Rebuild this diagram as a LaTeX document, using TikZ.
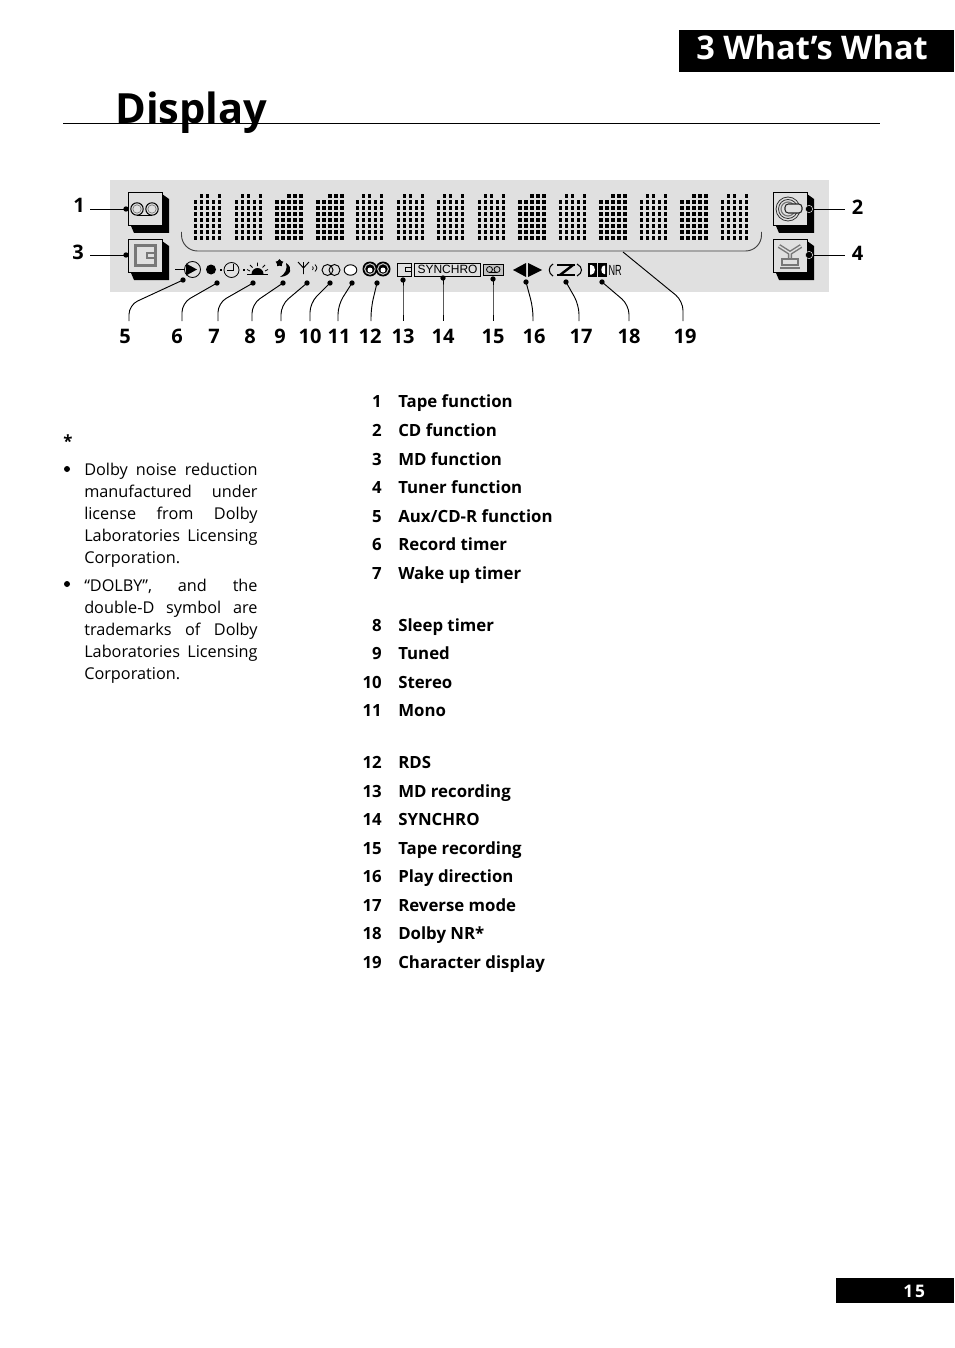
\documentclass[tikz,border=0pt]{standalone}
\usepackage{fontspec}
\setmainfont{Open Sans}
\newfontfamily\panelfont{Liberation Sans}
\definecolor{panelgray}{RGB}{224,224,224}
\definecolor{icongray}{RGB}{120,120,120}
\usetikzlibrary{arrows.meta,positioning,shapes.geometric,calc}
\newcommand{\pagetitle}{\fontsize{31.2}{36}\selectfont\bfseries}
\newcommand{\chaptitle}{\fontsize{24.4}{30}\selectfont\bfseries}
\newcommand{\calloutfont}{\fontsize{15}{18}\selectfont\bfseries}
\newcommand{\listfont}{\fontsize{12.6}{15}\selectfont\bfseries}
\newcommand{\notefont}{\fontsize{12.2}{16.5}\selectfont}

\begin{document}
\begin{tikzpicture}[x=0.75pt,y=-0.75pt,
  leader/.style={draw=black,line width=0.7pt,rounded corners=7pt},
  spot/.style={circle,fill=black,inner sep=0pt,minimum size=4pt},
  callout/.style={font=\calloutfont,anchor=base,inner sep=0pt},
  listnum/.style={font=\listfont,anchor=base east,inner sep=0pt},
  listtext/.style={font=\listfont,anchor=base west,inner sep=0pt},
  notetext/.style={font=\notefont,anchor=north west,inner sep=0pt,text width=130pt,align=justify},
  iconline/.style={draw=icongray,line width=1pt},
  keybox/.style={draw=black,fill=panelgray,line width=0.8pt}]
  \useasboundingbox (0,0) rectangle (954,1348);
  % Page heading
  \fill[black] (679,30) rectangle (954,72);
  \node[font=\chaptitle,text=white,anchor=base west,inner sep=0pt] (chapter) at (696,60) {3 What’s What};
  \node[font=\pagetitle,anchor=base west,inner sep=0pt] (title) at (115,124) {Display};
  \draw[line width=0.8pt] (63,123.8) -- (880,123.8);
  % Page number
  \fill[black] (836,1278) rectangle (954,1303);
  \node[font=\fontsize{13}{15}\selectfont\bfseries,text=white,anchor=base west,inner sep=0pt] (pagenum) at (903,1297) {1\hspace{1.5pt}5};
  % Display panel
  \fill[panelgray] (110,180) rectangle (829,292);
  % Dot matrix characters
  \foreach \n/\w/\ta/\tb in {0/3.2/2/3,1/3.2/2/3,2/4.3/3/4,3/4.3/3/4,4/3.2/2/3,5/3.2/2/3,6/3.2/2/3,
    7/3.2/2/3,8/4.3/3/4,9/3.2/2/3,10/4.3/3/4,11/3.2/2/3,12/4.3/3/4,13/3.2/2/3} {
    \pgfmathsetmacro{\cx}{194+40.5*\n}
    \foreach \col in {0,...,4} {
      \foreach \row in {1,...,7}
        \fill ({\cx+6*\col},{196+6*\row-1.6}) rectangle ({\cx+6*\col+\w},{196+6*\row+1.6});
    }
    \foreach \col in {\ta,\tb,5} {
      \fill ({\cx+6*(\col-1)},{194.4}) rectangle ({\cx+6*(\col-1)+\w},{197.6});
    }
  }
  \draw[line width=0.7pt,black!75,rounded corners=12pt] (181.5,232) -- (181.5,251) -- (761.5,251) -- (761.5,232);
  % Function keys
  \foreach \kx/\ky/\kname in {128/192/tape,128/239/md,773/192/cd,773/239/tuner} {
    \fill[black] (\kx+34,\ky+2) -- (\kx+41,\ky+7) -- (\kx+41,\ky+41) -- (\kx+6,\ky+41) -- (\kx+3,\ky+34) -- cycle;
    \node[keybox,minimum width=25.5pt,minimum height=25pt,inner sep=0pt,anchor=north west] (\kname) at (\kx,\ky) {};
  }
  % Tape icon
  \draw[line width=0.8pt] (137,209) circle[radius=6.2] (152,209) circle[radius=6.2];
  \draw[icongray,line width=0.5pt] (137,209) circle[radius=4.2] (152,209) circle[radius=4.2];
  \draw[line width=0.8pt] (137,215.2) -- (152,215.2);
  % MD icon
  \draw[iconline,line width=2pt] (135.5,245.5) rectangle (155.5,265.5);
  \draw[iconline] (155,253) -- (147,253) -- (147,258) -- (155,258);
  % CD icon
  \draw[black!80,line width=0.6pt] (788,209) circle[radius=12] (788,209) circle[radius=9.5];
  \draw[icongray,line width=0.9pt] (788,209) circle[radius=7];
  \draw[black!85,fill=panelgray,line width=0.8pt,rounded corners=2.5pt] (785,204) rectangle (802,213);
  % Tuner icon
  \draw[icongray,line width=3.2pt] (779,246) -- (790,253) -- (801,246) (790,253) -- (790,261);
  \draw[panelgray,line width=1pt] (779,246) -- (790,253) -- (801,246) (790,253) -- (790,259);
  \draw[icongray,fill=panelgray,line width=1.2pt] (782,259) rectangle (798,265);
  \draw[icongray,line width=1.2pt] (780,268) -- (800,268);
  % Play source
  \draw[line width=0.6pt] (175,269.5) -- (185,269.5);
  \draw[line width=0.6pt] (192.5,269.5) circle[radius=8];
  \fill (186,263.5) -- (197,269.5) -- (186,275.5) -- cycle;
  % Record timer, clock, wake up
  \fill (211,269.5) circle[radius=5];
  \fill (219.5,268.5) rectangle (222,271);
  \draw[line width=0.6pt] (231.5,270) circle[radius=7.5];
  \draw[line width=0.6pt] (233,263.5) -- (233,270) -- (227,270);
  \fill (242.5,268.5) rectangle (245,271);
  \draw[line width=0.8pt] (247,274.5) -- (268,274.5);
  \fill (251.5,274) arc[start angle=180,end angle=360,radius=6] -- cycle;
  \draw[line width=0.6pt] (257.5,262.5) -- (257.5,266) (250,265) -- (252.5,267.5) (265,265) -- (262.5,267.5) (247,269.5) -- (250,271) (268,269.5) -- (265,271);
  % Sleep and tuned
  \node[star,star points=5,fill=black,inner sep=0pt,minimum size=6pt] (sleepstar) at (279.5,263) {};
  \fill (286,263) .. controls (293,267) and (292,276) .. (280,277) .. controls (285,274) and (288,269) .. (286,263);
  \draw[line width=0.7pt] (303.5,274) -- (303.5,262) (298,262) -- (303.5,268) -- (309,262);
  \draw[line width=0.6pt] (312.5,270) .. controls (313.5,268) .. (312.5,266.5) (315,271.5) .. controls (317.5,268) .. (315,264.5);
  % Stereo, mono
  \draw[line width=0.7pt] (327.5,270) circle[radius=5.5] (334.5,270) circle[radius=5.5];
  \draw[line width=0.7pt,fill=white] (350.5,270) ellipse[x radius=6.3,y radius=5.2];
  % RDS
  \foreach \rx in {370,383} {
    \fill (\rx,269) circle[radius=7.5];
    \draw[panelgray!70!gray,line width=0.8pt] (\rx,269) circle[radius=5.3];
    \fill[white] (\rx,270) circle[radius=2.5];
  }
  % MD recording
  \draw[line width=0.6pt] (397,263) rectangle (411,276);
  \draw[line width=0.6pt] (411,267.5) -- (405,267.5) -- (405,271) -- (411,271);
  % Synchro
  \node[draw,line width=0.7pt,font=\panelfont\fontsize{9}{10}\selectfont,inner sep=0pt,minimum width=50pt,minimum height=9.8pt] (synchro) at (447.5,269.5) {SYNCHRO};
  % Tape recording
  \draw[line width=0.6pt,fill=panelgray!70!gray] (483.5,264.5) rectangle (503,275.5);
  \draw[line width=0.6pt] (489.5,269.5) circle[radius=3] (497,269.5) circle[radius=3] (489.5,272.5) -- (497,272.5);
  % Play direction
  \fill (513,270) -- (526,263) -- (526,277) -- cycle;
  \fill (528,263) -- (542,270) -- (528,277) -- cycle;
  % Reverse mode
  \draw[line width=0.8pt] (553,264) .. controls (548,267) and (548,273) .. (553,276);
  \draw[line width=0.8pt] (577,264) .. controls (583,267) and (583,273) .. (577,276);
  \draw[line width=0.8pt] (557,265) -- (575,265) (557,275) -- (575,275);
  \fill (571,265) -- (575,265) -- (562,275) -- (558,275) -- cycle;
  % Dolby NR
  \fill (588,263) rectangle (597,276.5);
  \fill (598,263) rectangle (607,276.5);
  \fill[white] (590,265) -- (591.5,265) .. controls (596,265) and (596,274.5) .. (591.5,274.5) -- (590,274.5) -- cycle;
  \fill[white] (605,265.5) -- (604,265.5) .. controls (600.5,265.5) and (600.5,274) .. (604,274) -- (605,274) -- cycle;
  \node[font=\panelfont\fontsize{11}{12}\selectfont,inner sep=0pt,xscale=0.62,anchor=west] (dolbynr) at (608.5,270.5) {NR};
  % Leaders below the panel
  \foreach \n/\dx/\dy/\bx/\by/\nx in {5/183/280/129/305/125,6/217/283/182/303/177,7/253/283/218/303/214,
    8/283/283/252/304/250,9/307/283/281/305/280,10/330/283/310/303/310,11/352/283/338/305/339,
    12/377/283/371/308/370,13/403/280/403/300/403,14/443/278/443/300/443,15/493/279/493/300/493,
    16/526/282/533/308/534,17/566/282/579/305/581,18/602/282/629/305/629} {
    \node[spot] (dot\n) at (\dx,\dy) {};
    \coordinate (end\n) at (\bx,321);
    \draw[leader] (dot\n.center) -- (\bx,\by) -- (end\n);
    \node[callout] (num\n) at (\nx,343) {\n};
  }
  \coordinate (chars) at (623,252);
  \coordinate (end19) at (683,321);
  \draw[leader] (chars) -- (683,301) -- (end19);
  \node[callout] (num19) at (685,343) {19};
  % Leaders at the keys
  \foreach \n/\dx/\dy/\lx/\tx/\ty in {1/126/209/90/79/213,3/126/255/90/78/259} {
    \node[spot] (dot\n) at (\dx,\dy) {};
    \coordinate (end\n) at (\lx,\dy);
    \draw[leader] (dot\n.center) -- (end\n);
    \node[callout] (num\n) at (\tx,\ty) {\n};
  }
  \foreach \n/\dx/\dy/\lx/\tx/\ty in {2/809/209/845/857.5/215,4/809/255/845/857.5/261} {
    \coordinate (end\n) at (\lx,\dy);
    \node[spot,draw=panelgray,line width=0.4pt,minimum size=5.5pt] (dot\n) at (\dx,\dy) {};
    \draw[leader] (dot\n.east) -- (end\n);
    \node[callout] (num\n) at (\tx,\ty) {\n};
  }
  % Function list
  \foreach \n/\ypos/\txt in {1/407/Tape function,2/436/CD function,3/465/MD function,4/493/Tuner function,
    5/522/{Aux/CD-R function},6/550/Record timer,7/579/Wake up timer,8/631/Sleep timer,9/659/Tuned,
    10/688/Stereo,11/716/Mono,12/768/RDS,13/797/MD recording,14/825/SYNCHRO,15/854/Tape recording,
    16/882/Play direction,17/911/Reverse mode,18/939/Dolby NR*,19/968/Character display} {
    \node[listnum] (item\n) at (382,\ypos) {\n};
    \node[listtext] (label\n) at (398,\ypos) {\txt};
  }
  % Dolby note
  \node[font=\listfont,inner sep=0pt] (star) at (68,441) {*};
  \node[spot,minimum size=4.5pt] (bulleta) at (67,469) {};
  \node[notetext] (notea) at (84,462.5) {Dolby noise reduction\linebreak manufactured under\linebreak license from Dolby\linebreak Laboratories Licensing\linebreak Corporation.};
  \node[spot,minimum size=4.5pt] (bulletb) at (67,584) {};
  \node[notetext] (noteb) at (84,578.5) {“DOLBY”, and the\linebreak double-D symbol are\linebreak trademarks of Dolby\linebreak Laboratories Licensing\linebreak Corporation.};
\end{tikzpicture}
\end{document}
